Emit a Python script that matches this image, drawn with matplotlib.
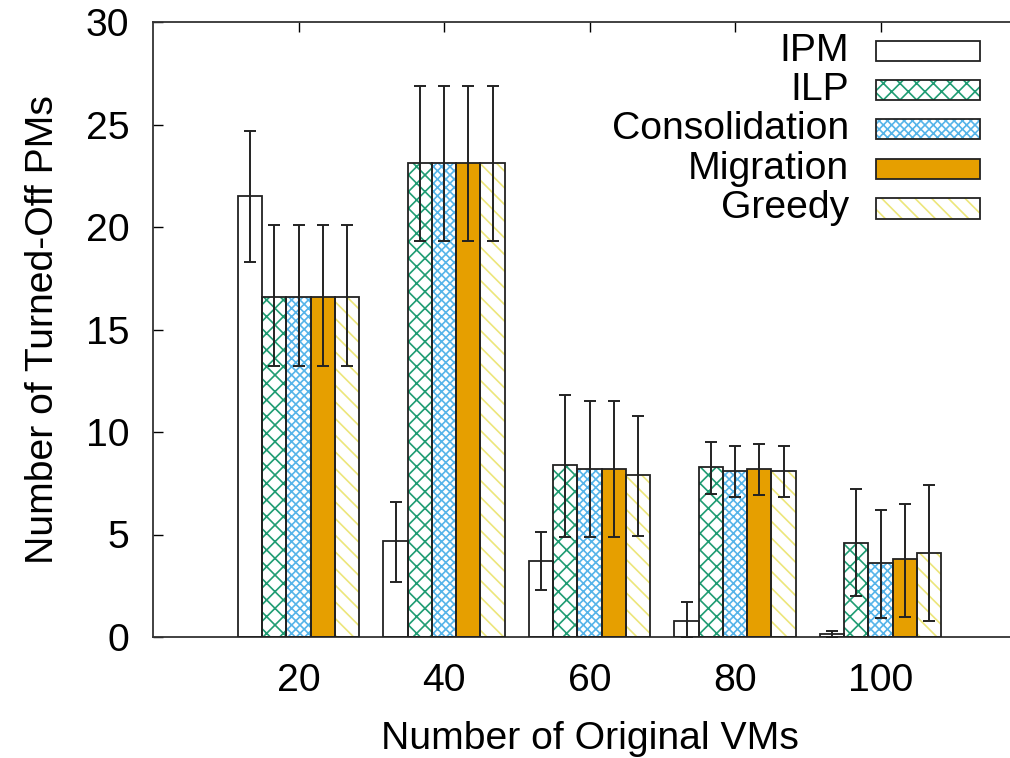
import numpy as np
import matplotlib
matplotlib.use("Agg")
import matplotlib.pyplot as plt
from matplotlib.patches import Rectangle

plt.rcParams['font.family'] = ['Liberation Sans', 'DejaVu Sans']
plt.rcParams['hatch.linewidth'] = 1.2

groups = ['20', '40', '60', '80', '100']
series = ['IPM', 'ILP', 'Consolidation', 'Migration', 'Greedy']

# bar heights
ipm = [21.5, 4.7, 3.7, 0.8, 0.15]
ilp = [16.6, 23.1, 8.4, 8.3, 4.6]
cons = [16.6, 23.1, 8.2, 8.1, 3.6]
mig = [16.6, 23.1, 8.2, 8.2, 3.8]
greedy = [16.6, 23.1, 7.9, 8.1, 4.1]

# error bar ends (low, high)
ipm_lo = [18.3, 2.7, 2.3, 0.0, 0.0]
ipm_hi = [24.7, 6.6, 5.1, 1.7, 0.3]
ilp_lo = [13.2, 19.3, 4.9, 7.0, 2.0]
ilp_hi = [20.1, 26.9, 11.8, 9.5, 7.2]
cons_lo = [13.2, 19.3, 4.9, 6.85, 0.95]
cons_hi = [20.1, 26.9, 11.5, 9.3, 6.2]
mig_lo = [13.2, 19.3, 4.9, 6.95, 1.0]
mig_hi = [20.1, 26.9, 11.5, 9.4, 6.5]
greedy_lo = [13.2, 19.3, 4.95, 6.85, 0.8]
greedy_hi = [20.1, 26.9, 10.8, 9.3, 7.4]

values = [ipm, ilp, cons, mig, greedy]
lows = [ipm_lo, ilp_lo, cons_lo, mig_lo, greedy_lo]
highs = [ipm_hi, ilp_hi, cons_hi, mig_hi, greedy_hi]

faces = ['white', 'white', 'white', '#e69f00', 'white']
hatch_colors = ['black', '#1f9c73', '#56b4e9', '#e69f00', '#ece67a']
hatches = [None, 'xx', 'xxxx', None, '\\\\']

fs = 28.2

fig = plt.figure(figsize=(10.1, 7.58), dpi=100)
ax = fig.add_axes([153 / 1010, 121 / 758, 873 / 1010, 615 / 758])

x = np.arange(len(groups))
w = 1 / 6
for k in range(len(series)):
    xs = x + (k - 2) * w
    v = np.array(values[k])
    ax.bar(xs, v, w, color=faces[k], edgecolor=hatch_colors[k], hatch=hatches[k], linewidth=0, zorder=2)
    ax.bar(xs, v, w, facecolor='none', edgecolor='#222222', linewidth=1.3, zorder=3)
    err = [v - np.array(lows[k]), np.array(highs[k]) - v]
    ax.errorbar(xs, v, yerr=err, fmt='none', ecolor='#222222', elinewidth=1.4,
                capsize=4, capthick=1.4, zorder=4)

ax.set_xlim(-1, 5)
ax.set_ylim(0, 30)
ax.set_xticks(x)
ax.set_xticklabels(groups)
ax.set_yticks(np.arange(0, 31, 5))
ax.tick_params(axis='x', bottom=False, top=True, direction='in', length=7, width=1,
               labelsize=fs, pad=18.5)
ax.tick_params(axis='y', left=True, right=False, direction='in', length=7, width=1,
               labelsize=fs, pad=17)
ax.spines['right'].set_visible(False)
for s in ax.spines.values():
    s.set_linewidth(1.3)
    s.set_color('#333333')

ax.set_xlabel('Number of Original VMs', fontsize=fs, labelpad=16)
ax.set_ylabel('Number of Turned-Off PMs', fontsize=fs, labelpad=18)

# gnuplot style key: text right aligned, sample box on the right
rows = [51, 90, 129, 169, 208.5]
for k, name in enumerate(series):
    yc = 1 - rows[k] / 758
    fig.text(849 / 1010, yc, name, ha='right', va='center', fontsize=fs)
    box = (876 / 1010, yc - 10 / 758)
    fig.add_artist(Rectangle(box, 104 / 1010, 20 / 758, transform=fig.transFigure,
                             facecolor=faces[k], edgecolor=hatch_colors[k], hatch=hatches[k], linewidth=0))
    fig.add_artist(Rectangle(box, 104 / 1010, 20 / 758, transform=fig.transFigure,
                             facecolor='none', edgecolor='#222222', linewidth=1.3))

fig.savefig('out.png', dpi=100)
